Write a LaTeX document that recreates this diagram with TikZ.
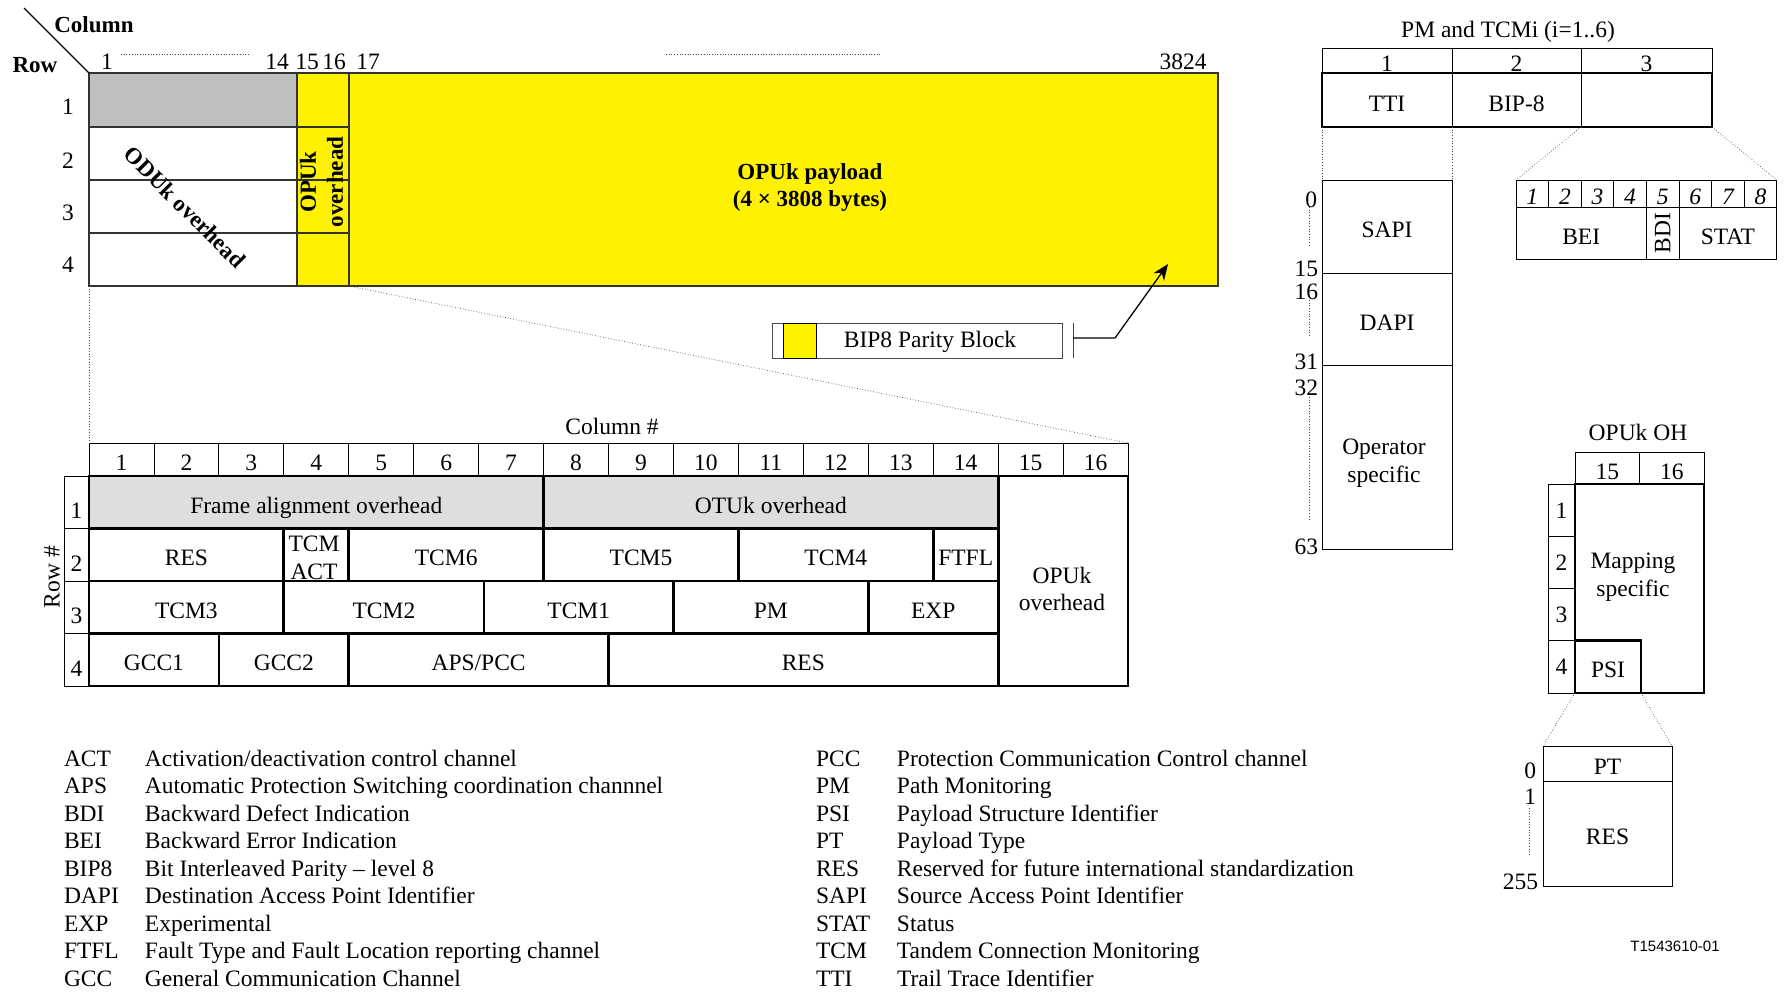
\documentclass[tikz,border=0pt]{standalone}
\usepackage{fontspec}
\setmainfont{Liberation Serif}
\newfontfamily\figidfont{Liberation Sans}
\usetikzlibrary{arrows.meta}

\def\colw{64.94pt}

\begin{document}
\begin{tikzpicture}[
    x=1pt, y=-1pt,
    font=\fontsize{23.5}{27.5}\selectfont,
    every node/.style={align=center, inner sep=0pt, outer sep=0pt},
    cell/.style={draw, anchor=north west, line width=0.8pt},
    ohcell/.style={cell, draw=black!80, line width=1.1pt},
    hdr/.style={cell, line width=0.8pt, text height=22pt, text depth=0pt},
    fld/.style={cell, line width=2.7pt, text height=22pt, text depth=0pt},
    lbl/.style={font=\fontsize{23}{27}\selectfont\bfseries},
    zoomln/.style={dotted, line width=0.7pt, black!70},
    >={Stealth[length=16pt, width=13pt]},
    arr/.style={->, line width=1.3pt},
]
\useasboundingbox (0,0) rectangle (1787,991);

% --- Frame overview (4 rows x 3824 columns) ---
\node[ohcell, fill=black!25, minimum width=208pt, minimum height=54pt] (odu1) at (89,73) {};
\node[ohcell, minimum width=208pt, minimum height=53pt] (odu2) at (89,127) {};
\node[ohcell, minimum width=208pt, minimum height=53pt] (odu3) at (89,180) {};
\node[ohcell, minimum width=208pt, minimum height=53pt] (odu4) at (89,233) {};
\node[ohcell, fill=yellow, minimum width=52pt, minimum height=54pt] (opu1) at (297,73) {};
\node[ohcell, fill=yellow, minimum width=52pt, minimum height=53pt] (opu2) at (297,127) {};
\node[ohcell, fill=yellow, minimum width=52pt, minimum height=53pt] (opu3) at (297,180) {};
\node[ohcell, fill=yellow, minimum width=52pt, minimum height=53pt] (opu4) at (297,233) {};
\node[ohcell, fill=yellow, minimum width=869pt, minimum height=213pt] (payload) at (349,73) {};

\node[lbl, rotate=-45] (odulbl) at (185,207) {ODUk overhead};
\node[lbl, rotate=90]  (opulbl) at (321.5,182) {OPUk\\overhead};
\node[lbl] (paylbl) at (810,187) {OPUk payload\\(4 × 3808 bytes)};

% --- Column / row numbering ---
\node[lbl] (colhd) at (94,25) {Column};
\node[lbl] (rowhd) at (35,65) {Row};
\coordinate (diagtop) at (24,8);
\draw[line width=1.1pt] (diagtop) -- (odu1.north west);

\node (c1)    at (107,62)  {1};
\node (c14)   at (277,62)  {14};
\node (c15)   at (307,62)  {15};
\node (c16)   at (334,62)  {16};
\node (c17)   at (368,62)  {17};
\node (c3824) at (1183,62) {3824};
\draw[zoomln] (121,54) -- (249,54);
\draw[zoomln] (666,54) -- (880,54);

\node (r1) at (68,107) {1};
\node (r2) at (68,161) {2};
\node (r3) at (68,213) {3};
\node (r4) at (68,265) {4};

% --- BIP8 key + pointer into payload ---
\node[cell, draw=black!70, minimum width=290pt, minimum height=35pt] (bipkey) at (772,323) {};
\node[cell, fill=yellow, minimum width=33pt, minimum height=35pt] (bipsq) at (783,323) {};
\node (biptxt) at (930,342) {BIP8 Parity Block};
\draw[line width=1pt, black!75] (1073,323) -- (1073,358);
\coordinate (brk) at (1073,338);
\coordinate (parblk) at (1168,264);
\draw[arr] (brk) -- ++(42,0) -- (parblk);

% --- Overhead detail table ---
\node (colnum) at (612,426) {Column \#};
\foreach \c in {1,...,16}
    \node[hdr, minimum width=\colw, minimum height=33pt] (h\c) at ({89+(\c-1)*64.94},443) {\c};
\foreach \r/\y in {1/476,2/528.5,3/581,4/633.5} {
    \node[hdr, minimum width=25pt, minimum height=52.5pt] (rn\r) at (64,\y) {};
    \node (rl\r) at (76.5,{\y+35}) {\r};
}
\node[rotate=90] (rowlbl) at (52,577) {Row \#};

% row 1
\node[fld, fill=black!13, minimum width=454.58pt, minimum height=52.5pt] (fao) at (89,476) {Frame alignment overhead};
\node[fld, fill=black!13, minimum width=454.58pt, minimum height=52.5pt] (otu) at (543.58,476) {OTUk overhead};
% row 2
\node[fld, minimum width=194.82pt, minimum height=52.5pt] (res2)   at (89,528.5)     {RES};
\node[fld, minimum width=64.94pt,  minimum height=52.5pt] (tcmact) at (283.82,528.5) {};
\node (tcmactlbl) at (314,558) {TCM\\ACT};
\node[fld, minimum width=194.82pt, minimum height=52.5pt] (tcm6)   at (348.76,528.5) {TCM6};
\node[fld, minimum width=194.82pt, minimum height=52.5pt] (tcm5)   at (543.58,528.5) {TCM5};
\node[fld, minimum width=194.82pt, minimum height=52.5pt] (tcm4)   at (738.4,528.5)  {TCM4};
\node[fld, minimum width=64.94pt,  minimum height=52.5pt] (ftfl)   at (933.22,528.5) {FTFL};
% row 3
\node[fld, minimum width=194.82pt, minimum height=52.5pt] (tcm3) at (89,581)     {TCM3};
\node[fld, minimum width=200.18pt, minimum height=52.5pt] (tcm2) at (283.82,581) {TCM2};
\node[fld, minimum width=189.46pt, minimum height=52.5pt] (tcm1) at (484,581)    {TCM1};
\node[fld, minimum width=194.82pt, minimum height=52.5pt] (pm)   at (673.46,581) {PM};
\node[fld, minimum width=129.88pt, minimum height=52.5pt] (exp)  at (868.28,581) {EXP};
% row 4
\node[fld, minimum width=129.88pt, minimum height=52.5pt] (gcc1) at (89,633.5)     {GCC1};
\node[fld, minimum width=129.88pt, minimum height=52.5pt] (gcc2) at (218.88,633.5) {GCC2};
\node[fld, minimum width=259.76pt, minimum height=52.5pt] (aps)  at (348.76,633.5) {APS/PCC};
\node[fld, minimum width=389.64pt, minimum height=52.5pt] (res4) at (608.52,633.5) {RES};
% OPUk columns
\node[fld, minimum width=129.88pt, minimum height=210pt] (opuoh) at (998.16,476) {};
\node (opuohlbl) at (1062,589) {OPUk\\overhead};

\draw[zoomln] (odu4.south west) -- (h1.north west);
\draw[zoomln] (opu4.south east) -- (h16.north east);

% --- PM and TCMi ---
\node (tcmtitle) at (1508,32) {PM and TCMi (i=1..6)};
\node[hdr, minimum width=130pt, minimum height=25pt] (tcmh1) at (1322,48) {1};
\node[hdr, minimum width=129pt, minimum height=25pt] (tcmh2) at (1452,48) {2};
\node[hdr, minimum width=131pt, minimum height=25pt] (tcmh3) at (1581,48) {3};
\node[hdr, minimum width=130pt, minimum height=54pt] (tti)   at (1322,73) {TTI};
\node[hdr, minimum width=129pt, minimum height=54pt] (bip)   at (1452,73) {BIP-8};
\node[hdr, minimum width=131pt, minimum height=54pt] (tcmb3) at (1581,73) {};
\node[fld, line width=2.2pt, minimum width=390pt, minimum height=54pt] (tcmrow) at (1322,73) {};

\node[hdr, minimum width=130pt, minimum height=93pt]  (sapi)   at (1322,180) {SAPI};
\node[hdr, minimum width=130pt, minimum height=92pt]  (dapi)   at (1322,273) {DAPI};
\node[hdr, minimum width=130pt, minimum height=184pt] (opspec) at (1322,365) {};
\node (opspeclbl) at (1384,463) {Operator\\specific};
\node[anchor=east] (s0)  at (1317,200) {0};
\node[anchor=east] (s15) at (1318,269) {15};
\node[anchor=east] (s16) at (1318,292) {16};
\node[anchor=east] (s31) at (1318,362) {31};
\node[anchor=east] (s32) at (1318,388) {32};
\node[anchor=east] (s63) at (1318,547) {63};
\draw[zoomln] (1309,207) -- (1309,245);
\draw[zoomln] (1309,300) -- (1309,337);
\draw[zoomln] (1309,397) -- (1309,520);

\foreach \b in {1,...,8}
    \node[hdr, minimum width=32.6pt, minimum height=27pt] (b\b) at ({1516+(\b-1)*32.6},180) {\itshape\b};
\node[hdr, minimum width=130.4pt, minimum height=52pt] (bei)  at (1516,207)   {BEI};
\node[hdr, minimum width=32.6pt,  minimum height=52pt] (bdi)  at (1646.4,207) {};
\node[rotate=90] (bdilbl) at (bdi.center) {BDI};
\node[hdr, minimum width=97.8pt,  minimum height=52pt] (stat) at (1679,207)   {STAT};

\draw[zoomln] (tti.south west) -- (sapi.north west);
\draw[zoomln] (tti.south east) -- (sapi.north east);
\draw[zoomln] (tcmb3.south west) -- (b1.north west);
\draw[zoomln] (tcmb3.south east) -- (b8.north east);

% --- OPUk OH ---
\node (ohtitle) at (1638,432) {OPUk OH};
\node[hdr, minimum width=64.5pt, minimum height=32pt] (oh15) at (1575,452)   {15};
\node[hdr, minimum width=64.5pt, minimum height=32pt] (oh16) at (1639.5,452) {16};
\foreach \r/\y in {1/484,2/536.25,3/588.5,4/640.75}
    \node[hdr, text height=16pt, minimum width=27pt, minimum height=52.25pt] (ohr\r) at (1548,\y) {\r};
\node[fld, minimum width=129pt, minimum height=209pt] (mapbox) at (1575,484) {};
\node (maplbl) at (1633,577) {Mapping\\specific};
\node[fld, minimum width=66pt, minimum height=52.25pt] (psi) at (1575,640.75) {PSI};

\node[hdr, minimum width=129pt, minimum height=35pt]  (pt)   at (1543,746) {PT};
\node[hdr, minimum width=129pt, minimum height=105pt] (resb) at (1543,781) {RES};
\node[anchor=east] (p0)   at (1536,771) {0};
\node[anchor=east] (p1)   at (1536,797) {1};
\node[anchor=east] (p255) at (1538,882) {255};
\draw[zoomln] (1529,808) -- (1529,856);

\draw[zoomln] (psi.south west) -- (pt.north west);
\draw[zoomln] (psi.south east) -- (pt.north east);

\node[font=\figidfont\fontsize{15}{18}\selectfont] (figid) at (1675,946) {T1543610-01};

% --- Abbreviations ---
\node[anchor=base west] (legleft) at (64,766) {%
\begin{tabular}[t]{@{}p{81pt}@{}l@{}}
ACT  & Activation/deactivation control channel \\
APS  & Automatic Protection Switching coordination channnel \\
BDI  & Backward Defect Indication \\
BEI  & Backward Error Indication \\
BIP8 & Bit Interleaved Parity -- level 8 \\
DAPI & Destination Access Point Identifier \\
EXP  & Experimental \\
FTFL & Fault Type and Fault Location reporting channel \\
GCC  & General Communication Channel
\end{tabular}};
\node[anchor=base west] (legright) at (816,766) {%
\begin{tabular}[t]{@{}p{81pt}@{}l@{}}
PCC  & Protection Communication Control channel \\
PM   & Path Monitoring \\
PSI  & Payload Structure Identifier \\
PT   & Payload Type \\
RES  & Reserved for future international standardization \\
SAPI & Source Access Point Identifier \\
STAT & Status \\
TCM  & Tandem Connection Monitoring \\
TTI  & Trail Trace Identifier
\end{tabular}};

\end{tikzpicture}
\end{document}
